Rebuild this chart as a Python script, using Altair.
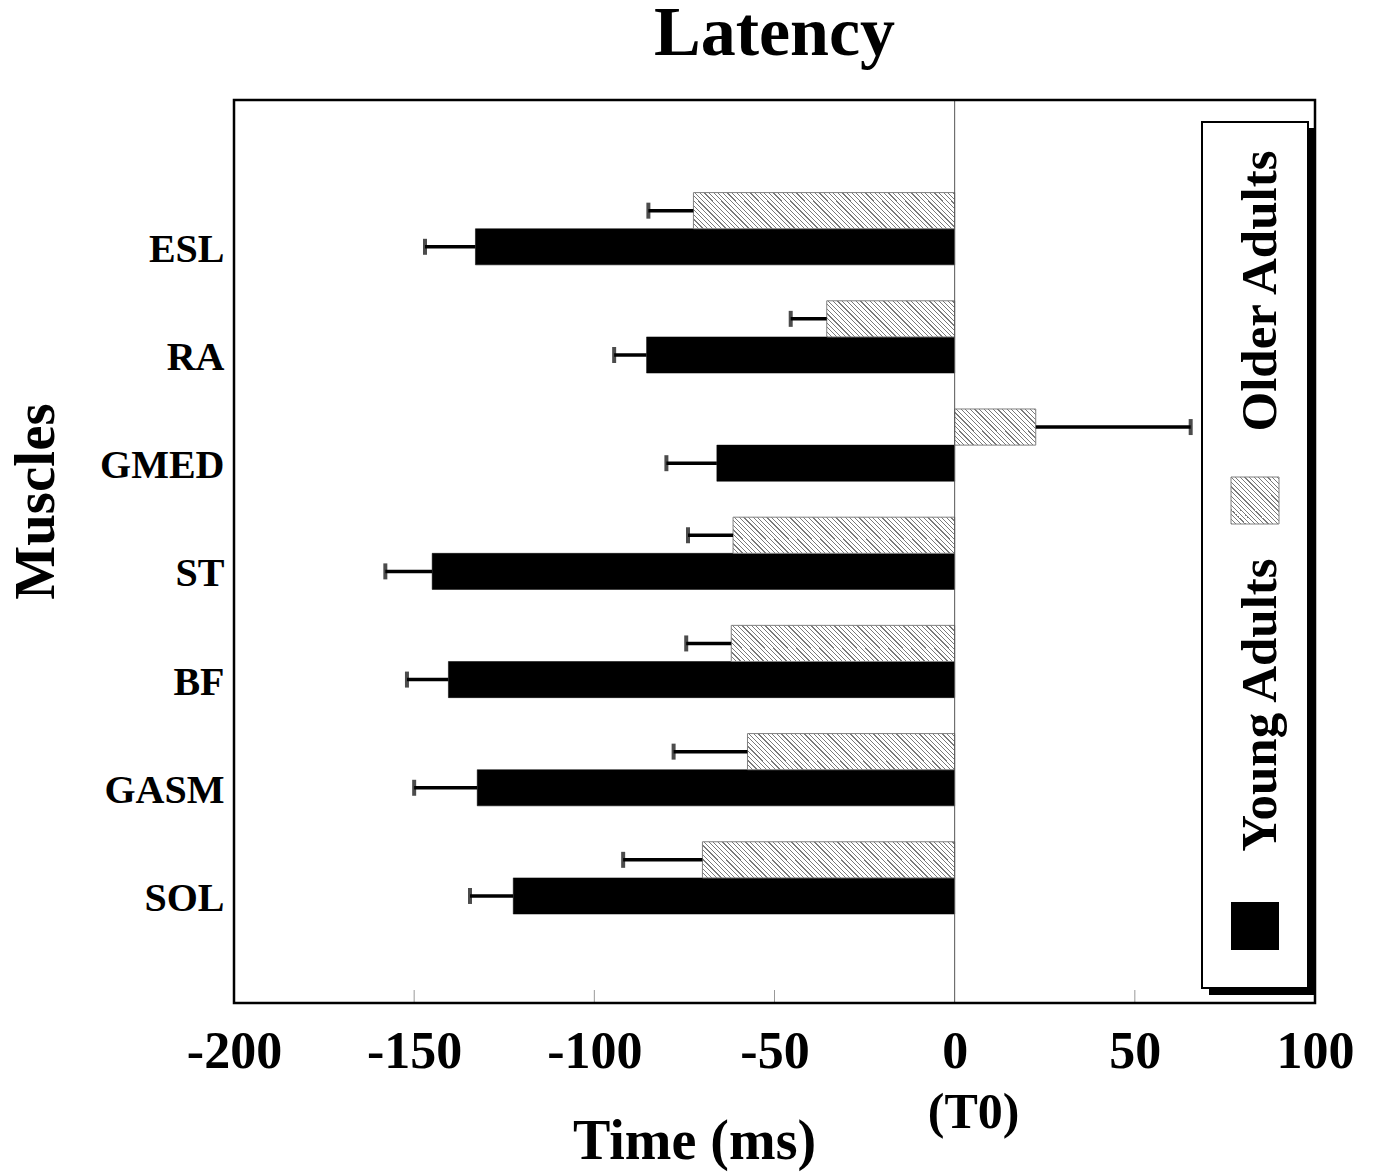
import altair as alt
import pandas as pd

muscles = ["ESL", "RA", "GMED", "ST", "BF", "GASM", "SOL"]
young_mean = [-133.0, -85.5, -66.0, -145.0, -140.5, -132.5, -122.5]
young_sd = [14.0, 9.0, 14.0, 13.0, 11.5, 17.5, 12.0]
older_mean = [-72.5, -35.5, 22.5, -61.5, -62.0, -57.5, -70.0]
older_sd = [12.5, 10.0, 43.0, 12.5, 12.5, 20.5, 22.0]
groups = ["Older Adults", "Young Adults"]
x_ticks = [-200, -150, -100, -50, 0, 50, 100]
inner_ticks = [-150, -100, -50, 50]

FONT = "Liberation Serif"
W_PLOT, H_PLOT = 1081, 903
X_DOMAIN = [-200, 100]
PX = W_PLOT / (X_DOMAIN[1] - X_DOMAIN[0])
BAR_H = 36.0


def sgn(v):
    return 1 if v >= 0 else -1


rows = []
for i, m in enumerate(muscles):
    rows.append(dict(muscle=m, group="Young Adults", mean=young_mean[i],
                     end=young_mean[i] + sgn(young_mean[i]) * young_sd[i]))
    rows.append(dict(muscle=m, group="Older Adults", mean=older_mean[i],
                     end=older_mean[i] + sgn(older_mean[i]) * older_sd[i]))
df = pd.DataFrame(rows)


def hatch(w, h, period=4.6, lw=1.2, dark="#7a7a7a"):
    L = w + h
    k = L / (w * w + h * h)
    stops = []
    i = 0
    while True:
        a = i * period / L
        if a >= 1:
            break
        b = min((i * period + lw) / L, 1.0)
        stops += [alt.GradientStop(offset=a, color="#ffffff"),
                  alt.GradientStop(offset=a, color=dark),
                  alt.GradientStop(offset=b, color=dark),
                  alt.GradientStop(offset=b, color="#ffffff")]
        i += 1
    stops.append(alt.GradientStop(offset=1.0, color="#ffffff"))
    return alt.LinearGradient(gradient="linear", x1=0, y1=1, x2=k * w, y2=1 - k * h,
                              stops=stops)


y_enc = alt.Y("muscle:N", sort=muscles,
              scale=alt.Scale(domain=muscles, paddingInner=0.332, paddingOuter=0.839, align=0.51),
              axis=alt.Axis(title="Muscles", labelFont=FONT, labelFontSize=40, labelFontWeight="bold",
                            labelColor="black", labelPadding=10, labelOffset=21, ticks=False, tickSize=0,
                            domain=False, grid=False,
                            titleFont=FONT, titleFontSize=57, titleFontWeight="bold", titleColor="black",
                            titleAngle=270, titleX=-181, titleY=401, titleAlign="center",
                            titleBaseline="alphabetic"))
yoff = alt.YOffset("group:N", sort=groups, scale=alt.Scale(domain=groups))
x_scale = alt.Scale(domain=X_DOMAIN, nice=False, zero=False)
x_enc = alt.X("mean:Q", scale=x_scale,
              axis=alt.Axis(title="Time (ms)", values=x_ticks, labelExpr="toString(datum.value)",
                            labelFont=FONT, labelFontSize=52,
                            labelFontWeight="bold", labelColor="black", labelPadding=23,
                            labelFlush=False, ticks=False, tickSize=0, domain=False, grid=False,
                            titleFont=FONT, titleFontSize=56, titleFontWeight="bold",
                            titleColor="black", titleX=460, titleY=155, titleAlign="center",
                            titleBaseline="alphabetic"))

base = alt.Chart(df)

young = base.transform_filter(alt.datum.group == "Young Adults").mark_bar(
    fill="black", stroke="black", strokeWidth=0.5).encode(
    x=x_enc, x2=alt.X2(datum=0), y=y_enc, yOffset=yoff)

older_layers = []
for i, m in enumerate(muscles):
    w = abs(older_mean[i]) * PX
    older_layers.append(
        alt.Chart(df[(df.muscle == m) & (df.group == "Older Adults")]).mark_bar(
            fill=hatch(w, BAR_H), stroke="#808080", strokeWidth=1).encode(
            x=alt.X("mean:Q", scale=x_scale), x2=alt.X2(datum=0), y=alt.Y("muscle:N", sort=muscles),
            yOffset=yoff))

err_rule = base.mark_rule(color="black", strokeWidth=3.5).encode(
    x=alt.X("mean:Q", scale=x_scale), x2="end:Q", y=alt.Y("muscle:N", sort=muscles), yOffset=yoff)
err_cap = base.mark_tick(color="black", thickness=4, size=16, orient="vertical").encode(
    x=alt.X("end:Q", scale=x_scale), y=alt.Y("muscle:N", sort=muscles), yOffset=yoff)

zero_line = alt.Chart(pd.DataFrame({"v": [0]})).mark_rule(color="#555555", strokeWidth=1).encode(
    x=alt.X("v:Q", scale=x_scale), y=alt.value(0), y2=alt.value(H_PLOT))
ticks_df = pd.DataFrame({"v": inner_ticks})
tick_marks = alt.Chart(ticks_df).mark_rule(color="#999999", strokeWidth=1).encode(
    x=alt.X("v:Q", scale=x_scale), y=alt.value(H_PLOT - 13), y2=alt.value(H_PLOT))
t0 = alt.Chart(pd.DataFrame({"v": [0], "t": ["(T0)"]})).mark_text(
    font=FONT, fontSize=50, fontWeight="bold", color="black", baseline="alphabetic",
    align="center", dx=19).encode(x=alt.X("v:Q", scale=x_scale), y=alt.value(H_PLOT + 125), text="t:N")

one = pd.DataFrame({"k": [0]})
frame = alt.Chart(one).mark_rect(fillOpacity=0, stroke="black", strokeWidth=2.5).encode(
    x=alt.value(0), x2=alt.value(W_PLOT), y=alt.value(0), y2=alt.value(H_PLOT))
title = alt.Chart(pd.DataFrame({"t": ["Latency"]})).mark_text(
    font=FONT, fontSize=70, fontWeight="bold", color="black", baseline="alphabetic",
    align="center").encode(text="t:N", x=alt.value(W_PLOT / 2), y=alt.value(-45))
leg_shadow = alt.Chart(one).mark_rect(fill="black").encode(
    x=alt.value(975), x2=alt.value(1081), y=alt.value(28), y2=alt.value(895))
leg_box = alt.Chart(one).mark_rect(fill="white", stroke="black", strokeWidth=2).encode(
    x=alt.value(968), x2=alt.value(1074), y=alt.value(22), y2=alt.value(888))
leg_black = alt.Chart(one).mark_rect(fill="black").encode(
    x=alt.value(997), x2=alt.value(1045), y=alt.value(802), y2=alt.value(850))
leg_hatch = alt.Chart(one).mark_rect(fill=hatch(48, 47), stroke="#808080", strokeWidth=1).encode(
    x=alt.value(997), x2=alt.value(1045), y=alt.value(377), y2=alt.value(424))
leg_text1 = alt.Chart(pd.DataFrame({"label": [groups[0]]})).mark_text(
    font=FONT, fontSize=51, fontWeight="bold", color="black", angle=270, align="center",
    baseline="alphabetic").encode(text="label:N", x=alt.value(1042), y=alt.value(191))
leg_text2 = alt.Chart(pd.DataFrame({"label": [groups[1]]})).mark_text(
    font=FONT, fontSize=51, fontWeight="bold", color="black", angle=270, align="center",
    baseline="alphabetic").encode(text="label:N", x=alt.value(1042), y=alt.value(605))

chart = alt.layer(
    young, *older_layers, zero_line, tick_marks, err_rule, err_cap, t0, frame, title,
    leg_shadow, leg_box, leg_black, leg_hatch, leg_text1, leg_text2
).properties(
    width=W_PLOT, height=H_PLOT,
    padding={"left": 226, "top": 92, "right": 50, "bottom": 170},
    autosize=alt.AutoSizeParams(type="none"),
).configure_view(strokeWidth=0).configure(background="white")

chart.save("out.html", embed_options={"renderer": "svg", "actions": False})
